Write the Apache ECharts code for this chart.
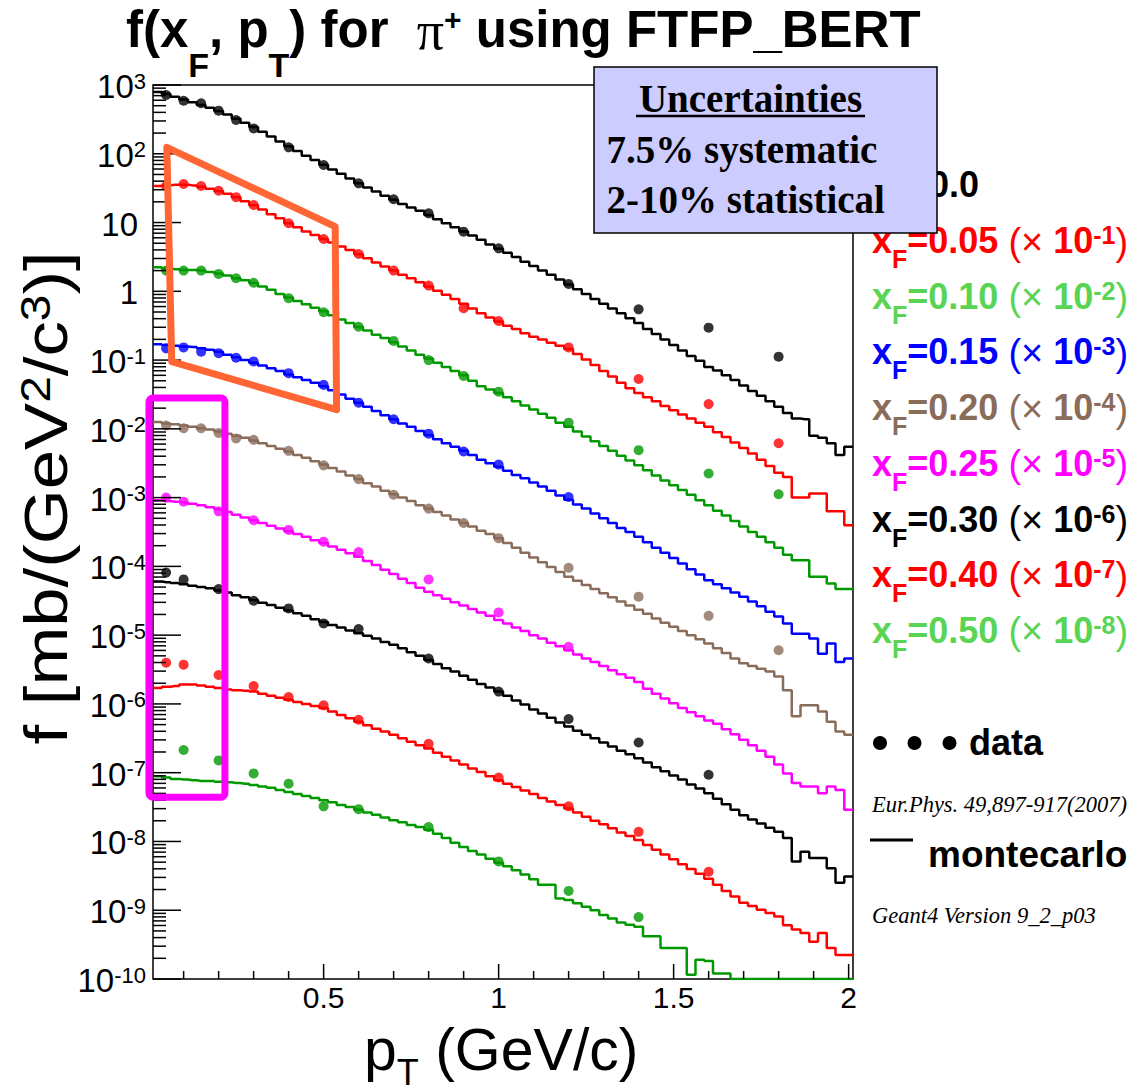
<!DOCTYPE html>
<html>
<head>
<meta charset="utf-8">
<title>f(xF, pT) for pi+ using FTFP_BERT</title>
<script src="https://cdn.jsdelivr.net/npm/echarts@6/dist/echarts.min.js"></script>
<style>
html,body{margin:0;padding:0;background:#ffffff;}
#chart{width:1143px;height:1091px;}
</style>
</head>
<body>
<div id="chart"></div>
<script>
// ================= DATA =================
// histogram range and bin centres (pT, GeV/c)
const ptRange = [0.0125, 2.0125];
const ptBins = [0.025,0.05,0.075,0.1,0.125,0.15,0.175,0.2,0.225,0.25,0.275,0.3,0.325,0.35,0.375,0.4,0.425,0.45,0.475,0.5,
0.525,0.55,0.575,0.6,0.625,0.65,0.675,0.7,0.725,0.75,0.775,0.8,0.825,0.85,0.875,0.9,0.925,0.95,0.975,1.0,
1.025,1.05,1.075,1.1,1.125,1.15,1.175,1.2,1.225,1.25,1.275,1.3,1.325,1.35,1.375,1.4,1.425,1.45,1.475,1.5,
1.525,1.55,1.575,1.6,1.625,1.65,1.675,1.7,1.725,1.75,1.775,1.8,1.825,1.85,1.875,1.9,1.925,1.95,1.975,2.0];

// Monte Carlo histograms (values as plotted, scale factors included)
const mcF000 = [794,741,676,617,562,513,468,417,372,324,
282,245,209,178,151,129,110,93.3,81.3,69.2,
58.9,51.3,43.7,37.2,32.4,28.2,24.5,21.4,18.6,16.6,
14.8,12.9,11.2,9.77,8.51,7.41,6.46,5.62,4.79,4.17,
3.63,3.16,2.69,2.34,2.00,1.74,1.48,1.26,1.07,0.912,
0.776,0.661,0.562,0.479,0.407,0.347,0.282,0.240,0.200,0.166,
0.138,0.115,0.0977,0.0794,0.0708,0.0603,0.0513,0.0427,0.0355,0.0302,
0.0251,0.0209,0.0170,0.0141,0.0138,0.00794,0.00741,0.00617,0.00417,0.00550];
const mcF005 = [33.9,34.7,35.5,35.5,34.7,33.1,30.9,28.8,26.3,23.4,
20.4,17.8,15.5,13.2,11.5,9.77,8.51,7.41,6.61,5.75,
5.13,4.47,3.98,3.47,3.02,2.63,2.29,2.00,1.74,1.55,
1.35,1.17,1.02,0.891,0.776,0.661,0.562,0.479,0.417,0.363,
0.316,0.282,0.245,0.219,0.200,0.178,0.162,0.145,0.123,0.102,
0.0851,0.0692,0.0575,0.0468,0.0389,0.0331,0.0288,0.0251,0.0214,0.0186,
0.0162,0.0141,0.0123,0.0107,0.00891,0.00759,0.00631,0.00525,0.00437,0.00355,
0.00288,0.00229,0.00200,0.00100,0.00100,0.00115,0.00115,0.000631,0.000631,0.000398];
const mcF010 = [2.24,2.14,2.09,2.04,2.04,2.00,1.91,1.82,1.70,1.55,
1.45,1.32,1.17,1.05,0.912,0.813,0.724,0.646,0.575,0.513,
0.447,0.389,0.347,0.302,0.269,0.234,0.209,0.182,0.158,0.138,
0.120,0.105,0.0912,0.0794,0.0692,0.0603,0.0501,0.0417,0.0372,0.0331,
0.0288,0.0251,0.0219,0.0191,0.0166,0.0145,0.0123,0.0107,0.00912,0.00776,
0.00661,0.00562,0.00479,0.00407,0.00347,0.00295,0.00251,0.00209,0.00178,0.00151,
0.00129,0.00110,0.000912,0.000776,0.000646,0.000550,0.000457,0.000380,0.000316,0.000269,
0.000224,0.000186,0.000148,0.000123,0.000123,0.0000708,0.0000708,0.0000562,0.0000468,0.0000468];
const mcF015 = [0.170,0.166,0.162,0.158,0.155,0.148,0.141,0.132,0.120,0.110,
0.100,0.0912,0.0832,0.0759,0.0692,0.0617,0.0562,0.0513,0.0468,0.0417,
0.0363,0.0316,0.0275,0.0240,0.0209,0.0182,0.0158,0.0138,0.0120,0.0107,
0.00933,0.00813,0.00708,0.00617,0.00550,0.00479,0.00417,0.00355,0.00316,0.00282,
0.00245,0.00214,0.00191,0.00166,0.00145,0.00126,0.00107,0.000933,0.000794,0.000692,
0.000589,0.000501,0.000427,0.000363,0.000316,0.000269,0.000224,0.000186,0.000158,0.000132,
0.000110,0.0000912,0.0000759,0.0000631,0.0000550,0.0000479,0.0000417,0.0000363,0.0000309,0.0000263,
0.0000219,0.0000186,0.0000148,0.0000105,0.0000105,0.00000891,0.00000537,0.00000759,0.00000407,0.00000457];
const mcF020 = [0.0126,0.0120,0.0117,0.0112,0.0107,0.0102,0.00977,0.00912,0.00851,0.00794,
0.00741,0.00676,0.00617,0.00562,0.00513,0.00468,0.00417,0.00380,0.00339,0.00302,
0.00269,0.00240,0.00209,0.00186,0.00162,0.00145,0.00126,0.00112,0.00100,0.000891,
0.000776,0.000692,0.000617,0.000550,0.000479,0.000427,0.000380,0.000331,0.000295,0.000257,
0.000219,0.000186,0.000158,0.000135,0.000115,0.0000977,0.0000832,0.0000708,0.0000617,0.0000537,
0.0000468,0.0000407,0.0000355,0.0000309,0.0000269,0.0000234,0.0000204,0.0000174,0.0000151,0.0000132,
0.0000115,0.0000100,0.00000871,0.00000759,0.00000646,0.00000550,0.00000457,0.00000389,0.00000355,0.00000324,
0.00000295,0.00000251,0.00000158,6.61e-7,9.55e-7,9.55e-7,7.76e-7,5.50e-7,3.98e-7,3.55e-7];
const mcF025 = [9.12e-4,8.91e-4,8.71e-4,8.51e-4,8.13e-4,7.76e-4,7.24e-4,6.76e-4,6.17e-4,5.62e-4,
5.13e-4,4.68e-4,4.27e-4,3.89e-4,3.55e-4,3.24e-4,2.95e-4,2.69e-4,2.40e-4,2.19e-4,
1.95e-4,1.74e-4,1.55e-4,1.38e-4,1.20e-4,1.05e-4,8.91e-5,7.76e-5,6.61e-5,5.75e-5,
4.90e-5,4.27e-5,3.80e-5,3.39e-5,3.02e-5,2.69e-5,2.40e-5,2.14e-5,1.91e-5,1.66e-5,
1.48e-5,1.29e-5,1.15e-5,1.00e-5,8.91e-6,7.76e-6,6.92e-6,6.03e-6,5.25e-6,4.57e-6,
4.07e-6,3.55e-6,3.09e-6,2.69e-6,2.40e-6,2.09e-6,1.66e-6,1.41e-6,1.20e-6,1.02e-6,
8.71e-7,7.59e-7,6.61e-7,5.75e-7,5.13e-7,4.27e-7,3.63e-7,3.02e-7,2.51e-7,2.09e-7,
1.70e-7,1.32e-7,9.77e-8,7.08e-8,6.31e-8,6.31e-8,5.01e-8,6.31e-8,5.62e-8,2.88e-8];
const mcF030 = [6.03e-5,5.89e-5,5.75e-5,5.50e-5,5.25e-5,5.01e-5,4.79e-5,4.47e-5,4.17e-5,3.80e-5,
3.55e-5,3.24e-5,2.95e-5,2.75e-5,2.51e-5,2.29e-5,2.09e-5,1.91e-5,1.70e-5,1.55e-5,
1.41e-5,1.29e-5,1.17e-5,1.07e-5,9.77e-6,8.91e-6,7.94e-6,7.24e-6,6.46e-6,5.62e-6,
5.01e-6,4.37e-6,3.80e-6,3.31e-6,2.95e-6,2.57e-6,2.24e-6,1.95e-6,1.74e-6,1.51e-6,
1.32e-6,1.12e-6,9.77e-7,8.32e-7,7.24e-7,6.31e-7,5.37e-7,4.68e-7,4.07e-7,3.55e-7,
3.16e-7,2.75e-7,2.40e-7,2.09e-7,1.86e-7,1.62e-7,1.41e-7,1.20e-7,1.05e-7,9.12e-8,
7.94e-8,6.76e-8,5.89e-8,5.01e-8,4.17e-8,3.47e-8,2.88e-8,2.40e-8,2.09e-8,1.82e-8,
1.58e-8,1.38e-8,1.12e-8,5.13e-9,7.08e-9,5.75e-9,5.75e-9,4.07e-9,2.51e-9,3.09e-9];
const mcF040 = [1.70e-6,1.78e-6,1.82e-6,1.91e-6,1.91e-6,1.86e-6,1.78e-6,1.70e-6,1.62e-6,1.58e-6,
1.55e-6,1.51e-6,1.41e-6,1.32e-6,1.23e-6,1.15e-6,1.07e-6,1.00e-6,9.33e-7,8.71e-7,
7.76e-7,6.92e-7,6.17e-7,5.50e-7,4.90e-7,4.37e-7,3.98e-7,3.55e-7,3.16e-7,2.82e-7,
2.51e-7,2.24e-7,1.95e-7,1.70e-7,1.51e-7,1.32e-7,1.15e-7,1.02e-7,8.91e-8,7.76e-8,
6.92e-8,6.17e-8,5.50e-8,4.90e-8,4.27e-8,3.80e-8,3.39e-8,3.02e-8,2.63e-8,2.29e-8,
2.00e-8,1.78e-8,1.55e-8,1.35e-8,1.20e-8,1.05e-8,8.91e-9,7.59e-9,6.46e-9,5.50e-9,
4.68e-9,3.98e-9,3.39e-9,2.88e-9,2.34e-9,1.91e-9,1.58e-9,1.29e-9,1.15e-9,1.02e-9,
9.12e-10,8.13e-10,6.03e-10,5.25e-10,4.68e-10,3.47e-10,4.68e-10,2.82e-10,2.24e-10,2.24e-10];
const mcF050 = [8.91e-8,8.51e-8,8.13e-8,7.94e-8,7.76e-8,7.59e-8,7.59e-8,7.41e-8,7.24e-8,7.08e-8,
6.92e-8,6.61e-8,6.31e-8,6.03e-8,5.62e-8,5.25e-8,4.90e-8,4.57e-8,4.27e-8,3.98e-8,
3.72e-8,3.39e-8,3.16e-8,2.88e-8,2.63e-8,2.45e-8,2.24e-8,2.04e-8,1.91e-8,1.74e-8,
1.62e-8,1.48e-8,1.29e-8,1.12e-8,9.55e-9,8.32e-9,7.24e-9,6.46e-9,5.62e-9,4.90e-9,
4.37e-9,3.80e-9,3.31e-9,2.82e-9,2.34e-9,2.34e-9,1.48e-9,1.41e-9,1.26e-9,1.12e-9,
1.00e-9,8.51e-10,7.59e-10,6.61e-10,6.17e-10,5.75e-10,4.17e-10,4.17e-10,2.82e-10,2.82e-10,
2.82e-10,1.15e-10,1.91e-10,1.82e-10,1.20e-10,1.20e-10,1e-10,1e-10,1e-10,1e-10,
1e-10,1e-10,1e-10,1e-10,1e-10,1e-10,1e-10,1e-10,1e-10,1e-10];

// Measured data points (NA49), null = no point
const ptData = [0.05,0.1,0.15,0.2,0.25,0.3,0.4,0.5,0.6,0.7,0.8,0.9,1.0,1.2,1.4,1.6,1.8];
const dataF000 = [716,591,542,423,310,234,124,68.7,37.2,21.8,13.6,7.36,4.22,1.28,0.547,0.296,0.112];
const dataF005 = [34,36.3,34,29,23.4,18,9.75,5.77,3.49,2.0,1.21,0.567,0.37,0.153,0.0531,0.0229,0.00617];
const dataF010 = [2.0,2.0,2.0,1.79,1.55,1.33,0.794,0.496,0.305,0.19,0.100,0.0589,0.0347,0.0123,0.0049,0.00224,0.00112];
const dataF015 = [0.148,0.153,0.132,0.126,0.108,0.0955,0.0646,0.0437,0.0240,0.0138,0.00851,0.00468,0.00302,0.00102,null,null,null];
const dataF020 = [0.0112,0.0102,0.0102,0.0087,0.00724,0.00692,0.00479,0.00295,0.00186,0.0011,0.000692,0.000427,0.000257,0.0000955,0.0000363,0.0000191,0.00000603];
const dataF025 = [1.0e-3,8.71e-4,null,6.31e-4,null,4.68e-4,3.39e-4,2.29e-4,1.62e-4,null,6.46e-5,null,2.14e-5,6.76e-6,null,null,null];
const dataF030 = [8.13e-5,6.46e-5,null,4.68e-5,null,3.16e-5,2.45e-5,1.48e-5,1.23e-5,null,4.57e-6,null,1.51e-6,6.03e-7,2.75e-7,9.33e-8,null];
const dataF040 = [3.98e-6,3.72e-6,null,2.63e-6,null,1.82e-6,1.26e-6,9.55e-7,5.89e-7,null,2.63e-7,null,8.51e-8,3.24e-8,1.38e-8,3.63e-9,null];
const dataF050 = [null,2.14e-7,null,1.51e-7,null,9.77e-8,6.92e-8,3.24e-8,2.95e-8,null,1.62e-8,null,5.13e-9,1.91e-9,7.94e-10,null,null];

// legend categories
const legendXF = ['0.0','0.05','0.10','0.15','0.20','0.25','0.30','0.40','0.50'];
const legendExp = [null,-1,-2,-3,-4,-5,-6,-7,-8];

// ticks and tick labels
const yDecades = [-10,-9,-8,-7,-6,-5,-4,-3,-2,-1,0,1,2,3];
const yMinorMantissa = [2,3,4,5,6,7,8,9];
const xTickLabels = [0.5,1,1.5,2];
const xMinorTicks = [0.1,0.2,0.3,0.4,0.6,0.7,0.8,0.9,1.1,1.2,1.3,1.4,1.6,1.7,1.8,1.9];

// annotation outlines drawn on the figure (data coordinates)
const orangeOutline = [[0.052,124],[0.533,8.7],[0.537,0.019],[0.066,0.095]];
const magentaOutline = [[0.001,0.028],[0.218,4.4e-8]];

// ================= STYLE =================
const lineColors = ['#000000','#ff0000','#009900','#0000ff','#8a6c5a','#ff00ff','#000000','#ff0000','#009900'];
const legendColors = ['#000000','#ff0000','#59d454','#0000ff','#8a6c5a','#ff00ff','#000000','#ff0000','#59d454'];
const mcList = [mcF000,mcF005,mcF010,mcF015,mcF020,mcF025,mcF030,mcF040,mcF050];
const dataList = [dataF000,dataF005,dataF010,dataF015,dataF020,dataF025,dataF030,dataF040,dataF050];

const chart = echarts.init(document.getElementById('chart'), null, {renderer:'svg', width:1143, height:1091});

const series = [];
mcList.forEach((mc, i) => {
  const pts = [[ptRange[0], mc[0]]].concat(ptBins.map((x, k) => [x, mc[k]])).concat([[ptRange[1], mc[mc.length-1]]]);
  series.push({
    name: 'MC xF=' + legendXF[i], type:'line', step:'middle', data: pts,
    symbol:'none', showSymbol:false, clip:true, z:2,
    lineStyle:{color: lineColors[i], width:2.5}, silent:true
  });
});
dataList.forEach((d, i) => {
  series.push({
    name: 'data xF=' + legendXF[i], type:'scatter', z:3, silent:true,
    data: ptData.map((x, k) => [x, d[k]]).filter(p => p[1] != null),
    symbol:'circle', symbolSize:10, itemStyle:{color: lineColors[i]}
  });
});

const option = {
  animation:false,
  backgroundColor:'#ffffff',
  grid:{left:153, top:85, width:700, height:894, show:true, borderColor:'#000', borderWidth:1.5, backgroundColor:'#fff'},
  xAxis:{type:'value', min:ptRange[0], max:ptRange[1],
    axisLine:{show:false}, axisTick:{show:false}, splitLine:{show:false},
    axisLabel:{customValues:xTickLabels, formatter:v => String(v), fontSize:30, lineHeight:22, color:'#000', fontFamily:'Liberation Sans', margin:7}},
  yAxis:{type:'log', logBase:10, min:1e-10, max:1e3,
    axisLine:{show:false}, axisTick:{show:false}, splitLine:{show:false}, axisLabel:{show:false}},
  series: series
};
chart.setOption(option);

// ================= DECORATIONS =================
const px = (x, y) => chart.convertToPixel({gridIndex:0}, [x, y]);
const g = [];
const tick = (x1,y1,x2,y2) => ({type:'line', z:20, silent:true, shape:{x1,y1,x2,y2}, style:{stroke:'#000', lineWidth:1.5}});

yDecades.forEach(e => {
  const p = px(ptRange[0], Math.pow(10, e));
  g.push(tick(p[0], p[1], p[0]+28, p[1]));
  if (e < 3) {
    yMinorMantissa.forEach(m => {
      const q = px(ptRange[0], m * Math.pow(10, e));
      g.push(tick(q[0], q[1], q[0]+13, q[1]));
    });
  }
});
xTickLabels.forEach(v => { const p = px(v, 1e-10); g.push(tick(p[0], p[1], p[0], p[1]-15)); });
xMinorTicks.forEach(v => { const p = px(v, 1e-10); g.push(tick(p[0], p[1], p[0], p[1]-8)); });

// y tick labels
const yRich = {
  b:{fontFamily:'Liberation Sans', fontSize:33, lineHeight:36, verticalAlign:'top', fill:'#000'},
  s:{fontFamily:'Liberation Sans', fontSize:22, lineHeight:16, verticalAlign:'top', fill:'#000'}
};
yDecades.forEach(e => {
  const p = px(ptRange[0], Math.pow(10, e));
  let txt, right;
  if (e === 0) { txt = '{b|1}'; right = 138; }
  else if (e === 1) { txt = '{b|10}'; right = 138; }
  else { txt = '{b|10}{s|' + e + '}'; right = 146; }
  g.push({type:'text', x:right, y:p[1] + 3 - 18, z:20, silent:true,
    style:{text:txt, rich:yRich, align:'right', verticalAlign:'top', fill:'#000'}});
});

// title
g.push({type:'text', x:126, y:4, z:30, silent:true, style:{
  text:'{b|f(x}{sub|F}{b|, p}{sub|T}{b|) for  }{pi|π}{sup|+}{b| using FTFP_BERT}',
  align:'left', verticalAlign:'top', fill:'#000',
  rich:{
    b:{fontFamily:'Liberation Sans', fontWeight:'bold', fontSize:51, lineHeight:50, verticalAlign:'top'},
    sub:{fontFamily:'Liberation Sans', fontWeight:'bold', fontSize:34, lineHeight:30, padding:[44,0,0,0], verticalAlign:'top'},
    sup:{fontFamily:'Liberation Sans', fontWeight:'bold', fontSize:30, lineHeight:30, verticalAlign:'top'},
    pi:{fontFamily:'Liberation Serif', fontSize:54, lineHeight:50, verticalAlign:'top'}
  }}});

// y axis title
g.push({type:'text', x:50, y:498, rotation:Math.PI/2, scaleX:1.14, z:30, silent:true, style:{
  text:'{b|f [mb/(GeV}{sup|2}{b|/c}{sup|3}{b|)]}',
  align:'center', verticalAlign:'middle', fill:'#000',
  rich:{
    b:{fontFamily:'Liberation Sans', fontSize:62, lineHeight:70, verticalAlign:'top'},
    sup:{fontFamily:'Liberation Sans', fontSize:42, lineHeight:18, verticalAlign:'top'}
  }}});

// x axis title
g.push({type:'text', x:364, y:1020, z:30, silent:true, style:{
  text:'{b|p}{sub|T}{b| (GeV/c)}',
  align:'left', verticalAlign:'top', fill:'#000',
  rich:{
    b:{fontFamily:'Liberation Sans', fontSize:59, lineHeight:40, verticalAlign:'top'},
    sub:{fontFamily:'Liberation Sans', fontSize:36, lineHeight:28, padding:[34,0,0,0], verticalAlign:'top'}
  }}});

// legend entries (the xF=0.0 entry is mostly hidden behind the uncertainties box; only its value shows)
const legRich = {
  b:{fontFamily:'Liberation Sans', fontWeight:'bold', fontSize:36, lineHeight:40, verticalAlign:'top'},
  sub:{fontFamily:'Liberation Sans', fontWeight:'bold', fontSize:25, lineHeight:24, padding:[24,0,0,0], verticalAlign:'top'},
  n:{fontFamily:'Liberation Sans', fontWeight:'normal', fontSize:38, lineHeight:40, verticalAlign:'top'},
  sup:{fontFamily:'Liberation Sans', fontWeight:'bold', fontSize:25, lineHeight:20, verticalAlign:'top'}
};
legendXF.forEach((lab, i) => {
  const cy = 186.8 + i * 55.7;
  let txt, x0 = 872;
  if (legendExp[i] === null) { txt = '{b|' + lab + '}'; x0 = 929; }
  else txt = '{b|x}{sub|F}{b|=' + lab + '}{b| }{n|(×}{b| 10}{sup|' + legendExp[i] + '}{n|)}';
  g.push({type:'text', x:x0, y:cy - 20, z:40, silent:true,
    style:{text:txt, rich:legRich, align:'left', verticalAlign:'top', fill:legendColors[i]}});
});

// data / montecarlo legend
[880, 914.5, 949.5].forEach(cx => g.push({type:'circle', z:40, silent:true, shape:{cx:cx, cy:743, r:7}, style:{fill:'#000'}}));
g.push({type:'text', x:969, y:742, z:40, silent:true, style:{text:'data', fontFamily:'Liberation Sans', fontWeight:'bold', fontSize:36, fill:'#000', align:'left', verticalAlign:'middle'}});
g.push({type:'text', x:872, y:804, z:40, silent:true, style:{text:'Eur.Phys. 49,897-917(2007)', fontFamily:'Liberation Serif', fontStyle:'italic', fontSize:22.5, fill:'#000', align:'left', verticalAlign:'middle'}});
g.push({type:'line', z:40, silent:true, shape:{x1:870, y1:840, x2:913, y2:840}, style:{stroke:'#000', lineWidth:3}});
g.push({type:'text', x:928, y:854, z:40, silent:true, style:{text:'montecarlo', fontFamily:'Liberation Sans', fontWeight:'bold', fontSize:37, fill:'#000', align:'left', verticalAlign:'middle'}});
g.push({type:'text', x:872, y:915, z:40, silent:true, style:{text:'Geant4 Version 9_2_p03', fontFamily:'Liberation Serif', fontStyle:'italic', fontSize:22.5, fill:'#000', align:'left', verticalAlign:'middle'}});

// uncertainties box
g.push({type:'rect', z:60, silent:true, shape:{x:594, y:67, width:343, height:166}, style:{fill:'#ccccff', stroke:'#000', lineWidth:1.5}});
g.push({type:'text', x:750.5, y:98, z:61, silent:true, style:{text:'Uncertainties', fontFamily:'Liberation Serif', fontWeight:'bold', fontSize:39, fill:'#000', align:'center', verticalAlign:'middle'}});
g.push({type:'line', z:61, silent:true, shape:{x1:636, y1:116, x2:865, y2:116}, style:{stroke:'#000', lineWidth:2.5}});
g.push({type:'text', x:606.5, y:149, z:61, silent:true, style:{text:'7.5% systematic', fontFamily:'Liberation Serif', fontWeight:'bold', fontSize:39, fill:'#000', align:'left', verticalAlign:'middle'}});
g.push({type:'text', x:606.5, y:199, z:61, silent:true, style:{text:'2-10% statistical', fontFamily:'Liberation Serif', fontWeight:'bold', fontSize:39, fill:'#000', align:'left', verticalAlign:'middle'}});

// annotation outlines
g.push({type:'polygon', z:70, silent:true, shape:{points: orangeOutline.map(p => px(p[0], p[1]))},
  style:{fill:'none', stroke:'#ff6633', lineWidth:7, lineJoin:'round'}});
(function(){
  const a = px(magentaOutline[0][0], magentaOutline[0][1]);
  const b = px(magentaOutline[1][0], magentaOutline[1][1]);
  g.push({type:'rect', z:70, silent:true, shape:{x:a[0], y:a[1], width:b[0]-a[0], height:b[1]-a[1], r:4},
    style:{fill:'none', stroke:'#ff00ff', lineWidth:7}});
})();

chart.setOption({graphic: g});
</script>
</body>
</html>
